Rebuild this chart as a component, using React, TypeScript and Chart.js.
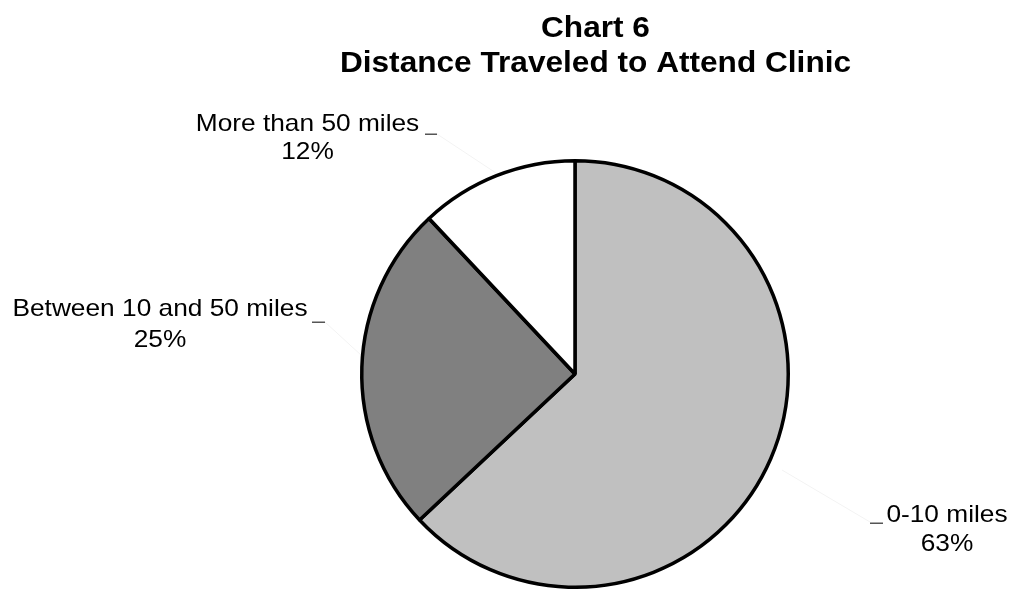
import React, { useEffect, useRef } from 'react';
import { Chart, registerables } from 'chart.js';

Chart.register(...registerables);

const categories = ['0-10 miles', 'Between 10 and 50 miles', 'More than 50 miles'];
const percentages = [63, 25, 12];
const titleLines = ['Chart 6', 'Distance Traveled to Attend Clinic'];

const sliceColors = ['#C0C0C0', '#808080', '#FFFFFF'];
const FONT = "'Liberation Sans', Arial, Helvetica, sans-serif";

// label anchor layout (not data)
const labelLayout = [
  { cx: 947, y1: 522, y2: 551, tick: [870, 883, 523], lead: [870, 522, 782, 470] },
  { cx: 160, y1: 316, y2: 347, tick: [312, 325, 322], lead: [325, 322, 362, 356] },
  { cx: 307.5, y1: 131, y2: 159, tick: [425, 437, 134], lead: [437, 134, 496, 173] },
];

function drawStretched(ctx: CanvasRenderingContext2D, text: string, cx: number, baseline: number, font: string, sx: number) {
  ctx.save();
  ctx.font = font;
  ctx.fillStyle = '#000000';
  ctx.textAlign = 'center';
  ctx.textBaseline = 'alphabetic';
  ctx.translate(cx, baseline);
  ctx.scale(sx, 1);
  ctx.fillText(text, 0, 0);
  ctx.restore();
}

const annotatePlugin = {
  id: 'annotate',
  afterDraw(chart: any) {
    const ctx: CanvasRenderingContext2D = chart.ctx;
    // title
    drawStretched(ctx, titleLines[0], 595.5, 37, `bold 29px ${FONT}`, 1.09);
    drawStretched(ctx, titleLines[1], 595.5, 71.5, `bold 29px ${FONT}`, 1.09);
    // slice labels
    const labels = chart.data.labels as string[];
    const vals = chart.data.datasets[0].data as number[];
    labels.forEach((lab, i) => {
      const L = labelLayout[i];
      ctx.save();
      ctx.strokeStyle = 'rgba(0,0,0,0.05)';
      ctx.lineWidth = 1;
      ctx.beginPath();
      ctx.moveTo(L.lead[0], L.lead[1]);
      ctx.lineTo(L.lead[2], L.lead[3]);
      ctx.stroke();
      ctx.fillStyle = '#555555';
      ctx.fillRect(L.tick[0], L.tick[2] - 0.5, L.tick[1] - L.tick[0], 1.5);
      ctx.restore();
      drawStretched(ctx, lab, L.cx, L.y1, `24px ${FONT}`, 1.095);
      drawStretched(ctx, `${vals[i]}%`, L.cx, L.y2, `24px ${FONT}`, 1.095);
    });
  },
};

export default function App() {
  const canvasRef = useRef<HTMLCanvasElement | null>(null);

  useEffect(() => {
    if (!canvasRef.current) return;
    const chart = new Chart(canvasRef.current, {
      type: 'pie',
      data: {
        labels: categories,
        datasets: [
          {
            data: percentages,
            backgroundColor: sliceColors,
            borderColor: '#000000',
            borderWidth: 3.5,
          },
        ],
      },
      options: {
        responsive: false,
        animation: false,
        layout: { padding: { top: 159, bottom: 0, left: 360, right: 220 } },
        plugins: {
          legend: { display: false },
          title: { display: false },
          tooltip: { enabled: false },
        },
      },
      plugins: [annotatePlugin],
    });
    return () => chart.destroy();
  }, []);

  return (
    <div style={{ position: 'absolute', left: 0, top: 0, width: 1010, height: 589, background: '#ffffff' }}>
      <canvas ref={canvasRef} width={1010} height={589} style={{ display: 'block' }} />
    </div>
  );
}
